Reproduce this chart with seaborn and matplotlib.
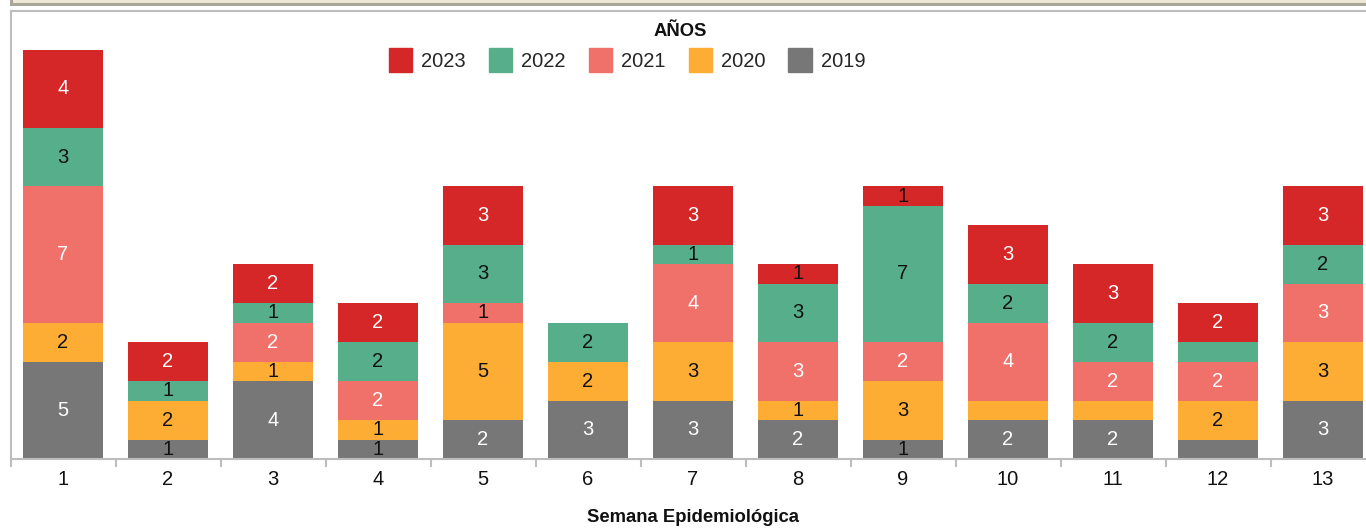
import matplotlib
matplotlib.use("Agg")
import numpy as np
import pandas as pd
import seaborn as sns
import matplotlib.pyplot as plt
import matplotlib.patches as mpatches

# Semana epidemiológica 1..13
weeks = [str(i) for i in range(1, 14)]

# cases per year, stacked from bottom (2019) to top (2023)
cases_2019 = [5, 1, 4, 1, 2, 3, 3, 2, 1, 2, 2, 1, 3]
cases_2020 = [2, 2, 1, 1, 5, 2, 3, 1, 3, 1, 1, 2, 3]
cases_2021 = [7, 0, 2, 2, 1, 0, 4, 3, 2, 4, 2, 2, 3]
cases_2022 = [3, 1, 1, 2, 3, 2, 1, 3, 7, 2, 2, 1, 2]
cases_2023 = [4, 2, 2, 2, 3, 0, 3, 1, 1, 3, 3, 2, 3]

stack_order = ["2019", "2020", "2021", "2022", "2023"]
legend_order = ["2023", "2022", "2021", "2020", "2019"]
palette = {"2019": "#777777", "2020": "#FDAD33", "2021": "#F0706A",
           "2022": "#56AE8A", "2023": "#D62728"}

# segments whose value label is not shown in the original
hidden_labels = [("10", "2020"), ("11", "2020"), ("12", "2019"), ("12", "2022")]

values = {"2019": cases_2019, "2020": cases_2020, "2021": cases_2021,
          "2022": cases_2022, "2023": cases_2023}
df = pd.concat(
    [pd.DataFrame({"semana": weeks, "anio": y, "casos": values[y]}) for y in stack_order],
    ignore_index=True)
df["acum"] = df.groupby("semana", sort=False)["casos"].cumsum()

sns.set_theme(style="white")
plt.rcParams["font.family"] = ["Liberation Sans", "DejaVu Sans"]

FS = 14.5
fig = plt.figure(figsize=(13.66, 5.28), dpi=100)
W, H = 1366, 528
ax = fig.add_axes([10.5 / W, (H - 459) / H, 1365 / W, 448 / H])

# draw cumulative totals, tallest layer first so lower layers sit on top
for y in reversed(stack_order):
    sns.barplot(data=df[df["anio"] == y], x="semana", y="acum", order=weeks,
                color=palette[y], saturation=1, width=0.76, linewidth=0, ax=ax)

for _, r in df.iterrows():
    if r["casos"] == 0 or (r["semana"], r["anio"]) in hidden_labels:
        continue
    dark = r["casos"] == 1 or r["anio"] in ("2020", "2022")
    ax.text(weeks.index(r["semana"]), r["acum"] - r["casos"] / 2, str(r["casos"]),
            ha="center", va="center", fontsize=FS,
            color="#111111" if dark else "white")

ax.set_xlim(-0.5, 12.5)
ax.set_ylim(0, 23.0)
ax.set_yticks([])
ax.set_ylabel("")
ax.set_xticks(range(13))
ax.set_xticklabels(weeks)
ax.set_xticks(np.arange(-0.5, 13, 1), minor=True)
ax.tick_params(axis="x", which="major", length=0, pad=8, labelsize=FS, labelcolor="#111111")
ax.tick_params(axis="x", which="minor", length=6, width=1.5, color="#BDBDBD", bottom=True)
ax.set_xlabel("Semana Epidemiológica", fontsize=13.3, fontweight="bold", labelpad=14,
              color="#111111")

for s in ["top", "left", "bottom"]:
    ax.spines[s].set_color("#BDBDBD")
    ax.spines[s].set_linewidth(1.5)
ax.spines["right"].set_visible(False)

# legend
handles = [mpatches.Patch(color=palette[y], label=y) for y in legend_order]
fig.legend(handles=handles, loc="center", bbox_to_anchor=(627 / W, (H - 60) / H),
           ncol=5, frameon=False, fontsize=FS, handlelength=1.15, handleheight=1.4,
           handletextpad=0.45, columnspacing=1.15, borderaxespad=0)
fig.text(680 / W, (H - 32) / H, "AÑOS", ha="center", va="center",
         fontsize=13.3, fontweight="bold", color="#111111")

# page chrome band at the top
fig.add_artist(mpatches.Rectangle((13 / W, (H - 3) / H), 1, 3 / H,
                                  transform=fig.transFigure, color="#EFE7D5", lw=0))
fig.add_artist(mpatches.Rectangle((13 / W, (H - 6) / H), 1, 3 / H,
                                  transform=fig.transFigure, color="#AAA69A", lw=0))
fig.add_artist(mpatches.Rectangle((10 / W, (H - 6) / H), 3 / W, 6 / H,
                                  transform=fig.transFigure, color="#AAA69A", lw=0))

fig.savefig("out.png", dpi=100)
